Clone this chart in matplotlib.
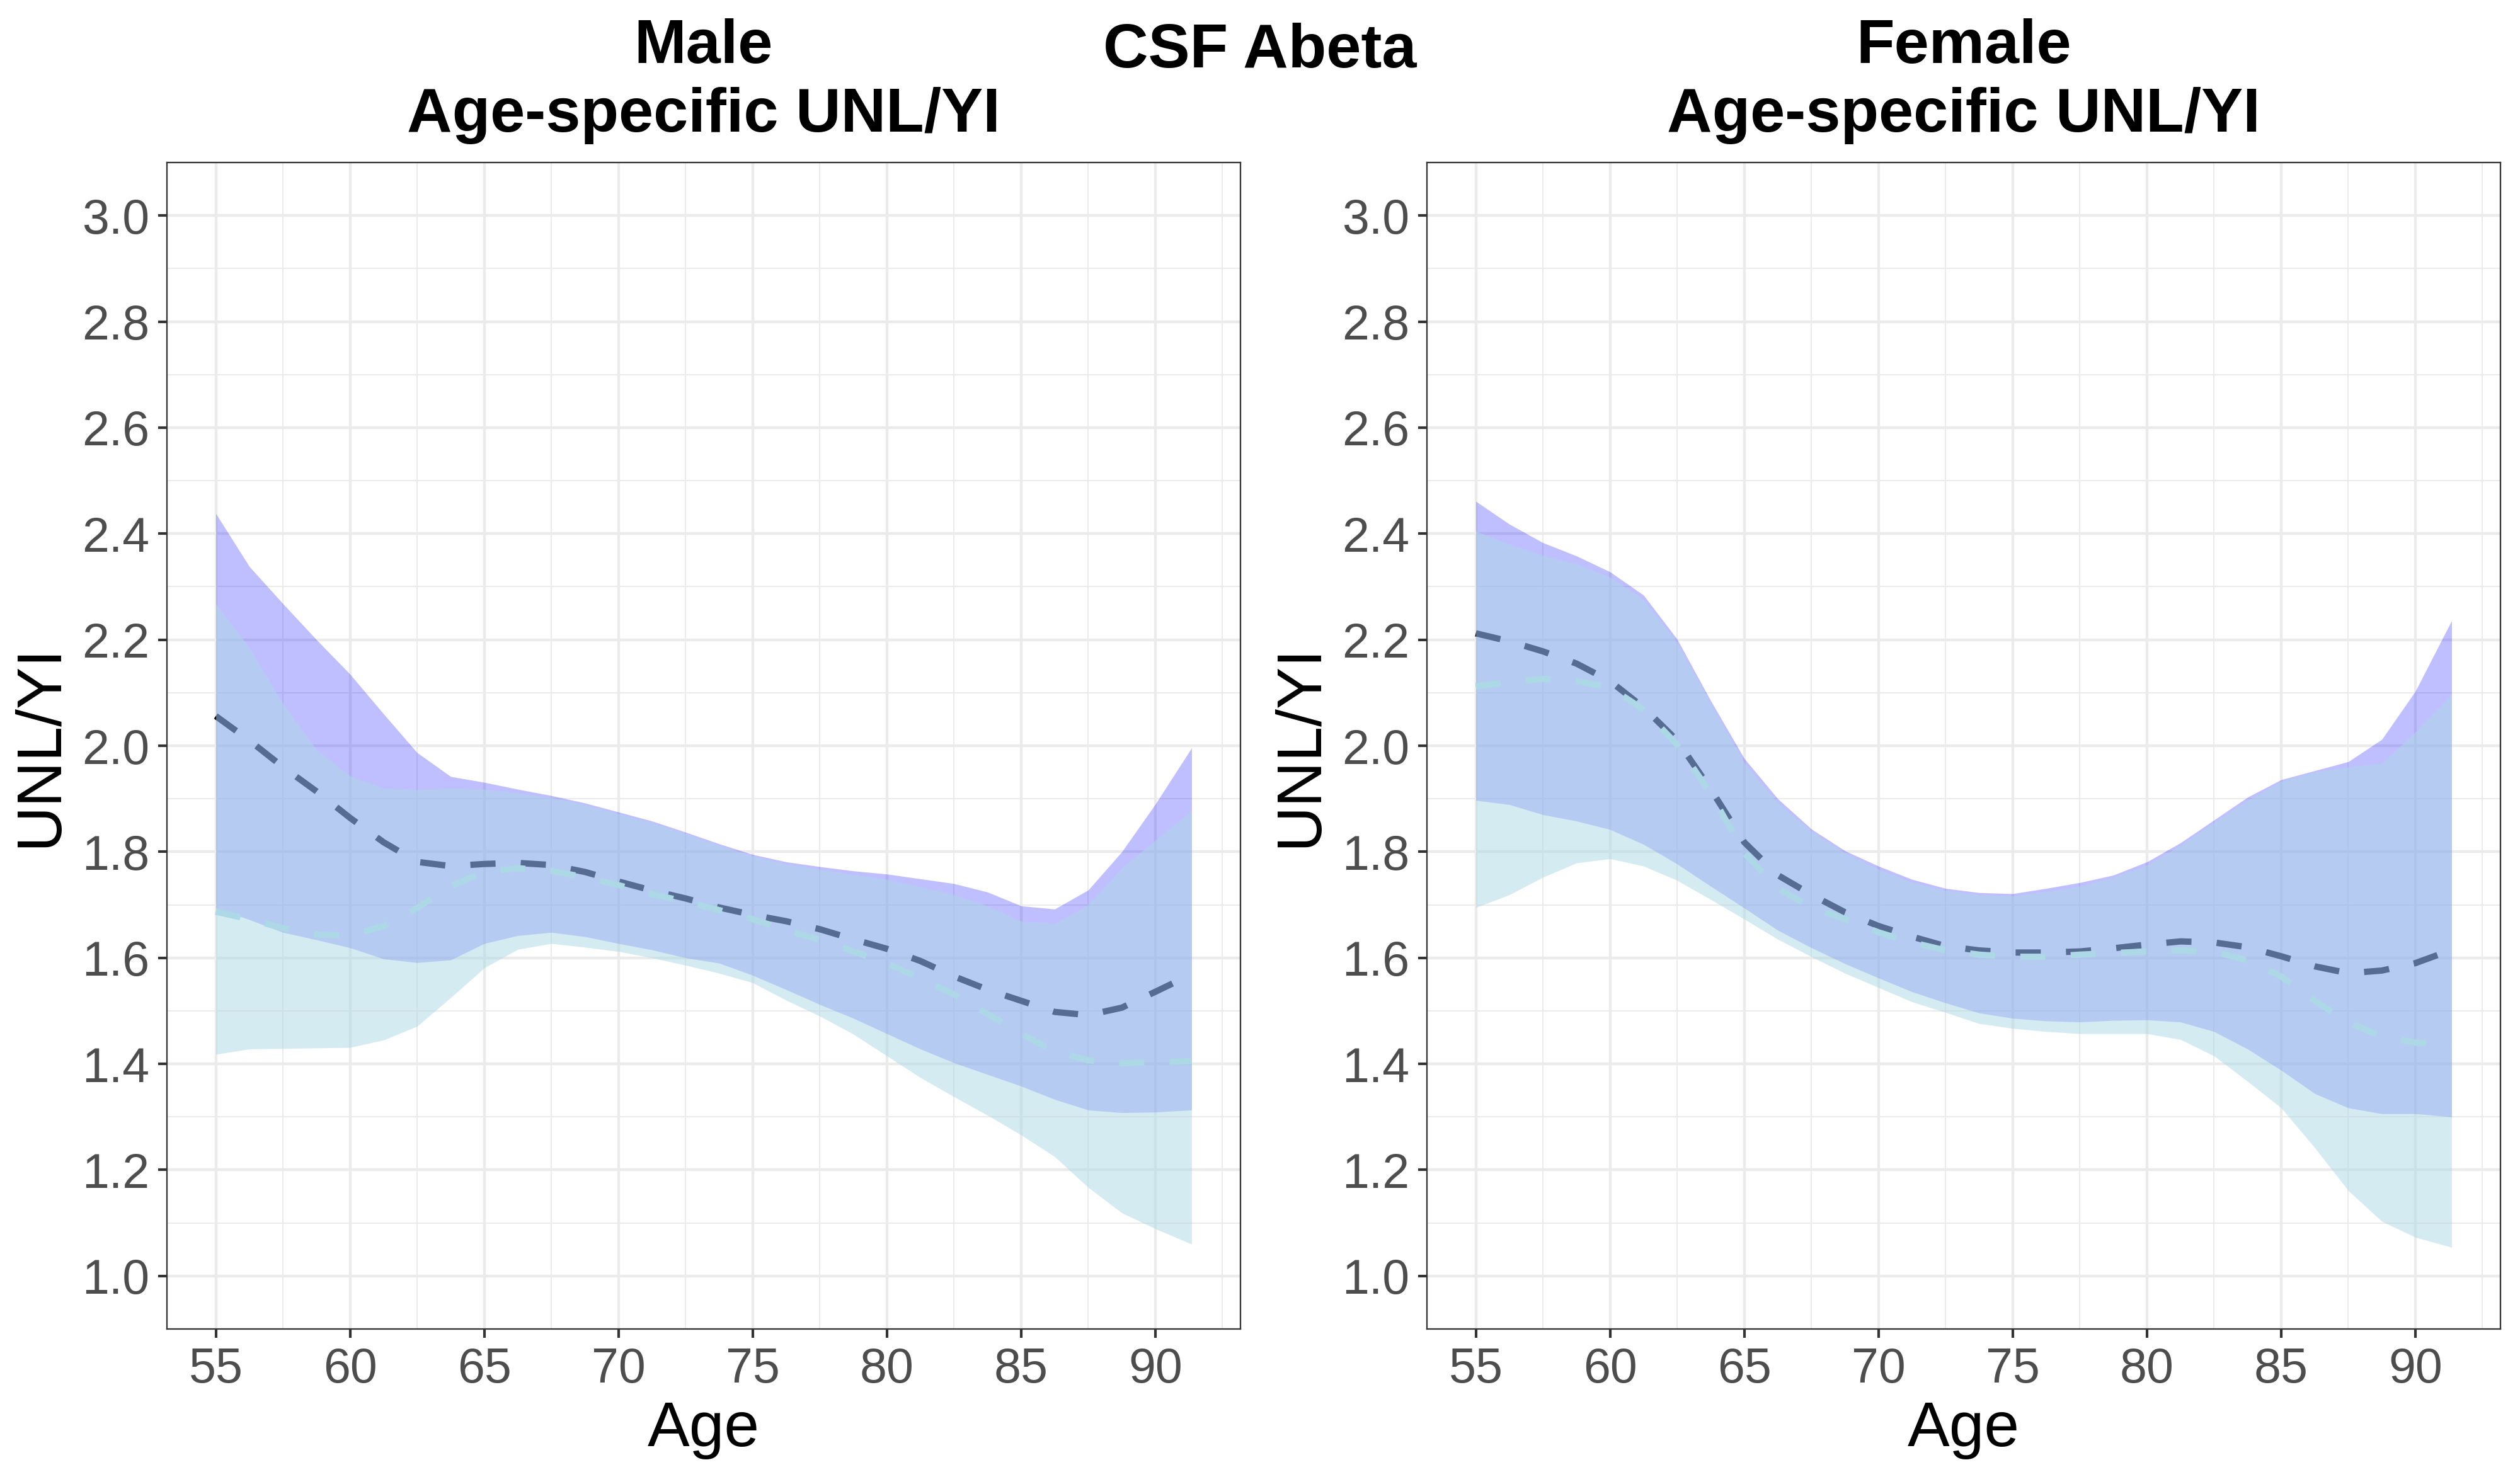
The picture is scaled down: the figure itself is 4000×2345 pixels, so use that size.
import matplotlib
matplotlib.use("Agg")
import matplotlib.pyplot as plt
from matplotlib.ticker import MultipleLocator, FixedLocator

plt.rcParams['font.family'] = ['Liberation Sans', 'DejaVu Sans']

ages = [55.0, 56.25, 57.5, 58.75, 60.0, 61.25, 62.5, 63.75, 65.0, 66.25,
        67.5, 68.75, 70.0, 71.25, 72.5, 73.75, 75.0, 76.25, 77.5, 78.75,
        80.0, 81.25, 82.5, 83.75, 85.0, 86.25, 87.5, 88.75, 90.0, 91.35]

# Male panel
m_hi1 = [2.438, 2.338, 2.268, 2.200, 2.135, 2.060, 1.987, 1.942, 1.931, 1.918,
         1.906, 1.892, 1.875, 1.858, 1.837, 1.815, 1.795, 1.781, 1.772, 1.764,
         1.758, 1.749, 1.740, 1.724, 1.698, 1.692, 1.728, 1.800, 1.890, 1.996]
m_lo1 = [1.694, 1.672, 1.648, 1.634, 1.619, 1.598, 1.591, 1.596, 1.627, 1.642,
         1.648, 1.640, 1.627, 1.615, 1.600, 1.590, 1.567, 1.540, 1.512, 1.486,
         1.457, 1.428, 1.402, 1.380, 1.358, 1.333, 1.313, 1.308, 1.309, 1.313]
m_hi2 = [2.268, 2.185, 2.080, 1.993, 1.943, 1.920, 1.917, 1.920, 1.918, 1.911,
         1.902, 1.889, 1.872, 1.855, 1.834, 1.812, 1.792, 1.777, 1.767, 1.757,
         1.748, 1.734, 1.719, 1.698, 1.669, 1.665, 1.700, 1.770, 1.822, 1.878]
m_lo2 = [1.418, 1.428, 1.429, 1.430, 1.431, 1.445, 1.471, 1.525, 1.581, 1.616,
         1.627, 1.620, 1.612, 1.600, 1.586, 1.571, 1.553, 1.520, 1.490, 1.456,
         1.415, 1.374, 1.338, 1.303, 1.266, 1.225, 1.167, 1.119, 1.089, 1.060]
m_fit1 = [2.056, 2.010, 1.960, 1.914, 1.864, 1.818, 1.781, 1.773, 1.777, 1.779,
          1.775, 1.762, 1.744, 1.727, 1.712, 1.695, 1.681, 1.669, 1.654, 1.635,
          1.617, 1.594, 1.565, 1.540, 1.519, 1.498, 1.492, 1.506, 1.536, 1.569]
m_fit2 = [1.687, 1.673, 1.656, 1.644, 1.642, 1.660, 1.694, 1.735, 1.762, 1.769,
          1.764, 1.752, 1.737, 1.720, 1.706, 1.690, 1.673, 1.652, 1.634, 1.612,
          1.590, 1.561, 1.531, 1.494, 1.457, 1.423, 1.407, 1.401, 1.403, 1.405]

# Female panel
f_hi1 = [2.461, 2.418, 2.383, 2.358, 2.328, 2.284, 2.201, 2.085, 1.976, 1.900,
         1.843, 1.802, 1.773, 1.748, 1.731, 1.723, 1.721, 1.731, 1.742, 1.756,
         1.781, 1.817, 1.860, 1.903, 1.936, 1.953, 1.970, 2.012, 2.103, 2.236]
f_lo1 = [1.897, 1.889, 1.870, 1.858, 1.842, 1.814, 1.777, 1.735, 1.694, 1.652,
         1.619, 1.589, 1.562, 1.536, 1.515, 1.496, 1.486, 1.481, 1.479, 1.482,
         1.483, 1.479, 1.461, 1.428, 1.388, 1.344, 1.317, 1.306, 1.306, 1.300]
f_hi2 = [2.405, 2.380, 2.359, 2.343, 2.318, 2.276, 2.195, 2.080, 1.968, 1.893,
         1.839, 1.798, 1.767, 1.743, 1.727, 1.719, 1.717, 1.725, 1.735, 1.752,
         1.775, 1.812, 1.856, 1.897, 1.933, 1.950, 1.960, 1.967, 2.026, 2.097]
f_lo2 = [1.695, 1.719, 1.752, 1.779, 1.787, 1.773, 1.746, 1.710, 1.673, 1.635,
         1.602, 1.571, 1.544, 1.517, 1.497, 1.476, 1.467, 1.461, 1.457, 1.457,
         1.457, 1.446, 1.415, 1.367, 1.317, 1.242, 1.161, 1.103, 1.073, 1.054]
f_fit1 = [2.212, 2.197, 2.178, 2.155, 2.122, 2.072, 2.010, 1.918, 1.818, 1.756,
          1.719, 1.686, 1.660, 1.640, 1.622, 1.614, 1.610, 1.610, 1.612, 1.618,
          1.625, 1.631, 1.629, 1.620, 1.603, 1.584, 1.571, 1.576, 1.590, 1.615]
f_fit2 = [2.112, 2.120, 2.126, 2.122, 2.110, 2.068, 2.002, 1.910, 1.798, 1.731,
          1.695, 1.673, 1.648, 1.629, 1.614, 1.606, 1.602, 1.602, 1.606, 1.609,
          1.612, 1.614, 1.612, 1.595, 1.565, 1.519, 1.478, 1.452, 1.440, 1.437]

panel_titles = ["Male", "Female"]
subtitle = "Age-specific UNL/YI"
main_title = "CSF Abeta"
x_ticks = [55, 60, 65, 70, 75, 80, 85, 90]
y_ticks = [1.0, 1.2, 1.4, 1.6, 1.8, 2.0, 2.2, 2.4, 2.6, 2.8, 3.0]

W, H = 4000, 2345
fig = plt.figure(figsize=(W / 300, H / 300), dpi=300)

panels = [
    (m_hi1, m_lo1, m_hi2, m_lo2, m_fit1, m_fit2),
    (f_hi1, f_lo1, f_hi2, f_lo2, f_fit1, f_fit2),
]
lefts = [265 / W, 2265 / W]
bottom = 1 - 2110 / H
width = 1704 / W
height = (2110 - 258) / H

for i, (hi1, lo1, hi2, lo2, fit1, fit2) in enumerate(panels):
    ax = fig.add_axes([lefts[i], bottom, width, height])
    ax.set_xlim(53.18, 93.17)
    ax.set_ylim(0.9, 3.1)
    ax.xaxis.set_major_locator(FixedLocator(x_ticks))
    ax.xaxis.set_minor_locator(FixedLocator([57.5, 62.5, 67.5, 72.5, 77.5, 82.5, 87.5, 92.5]))
    ax.yaxis.set_major_locator(FixedLocator(y_ticks))
    ax.yaxis.set_minor_locator(FixedLocator([1.1, 1.3, 1.5, 1.7, 1.9, 2.1, 2.3, 2.5, 2.7, 2.9]))
    ax.set_xticklabels([str(t) for t in x_ticks])
    ax.set_yticklabels([f"{t:.1f}" for t in y_ticks])
    ax.grid(which='major', color='#EBEBEB', linewidth=1.05, zorder=0)
    ax.grid(which='minor', color='#EBEBEB', linewidth=0.5, zorder=0)
    ax.set_axisbelow(True)
    ax.tick_params(which='major', length=3.4, width=1.0, color='#333333',
                   labelsize=18.5, labelcolor='#4D4D4D', pad=3.2)
    ax.tick_params(which='minor', length=0)
    for s in ax.spines.values():
        s.set_color('#333333')
        s.set_linewidth(0.55)

    ax.plot(ages, fit1, color='black', linewidth=2.4, dashes=(4, 4),
            solid_capstyle='butt', dash_capstyle='butt', zorder=2)
    ax.fill_between(ages, lo1, hi1, color='blue', alpha=0.25, linewidth=0, zorder=3)
    ax.plot(ages, fit2, color='lightblue', linewidth=2.4, dashes=(4, 4),
            dash_capstyle='butt', zorder=4)
    ax.fill_between(ages, lo2, hi2, color='lightblue', alpha=0.5, linewidth=0, zorder=5)

    cx = lefts[i] + width / 2
    fig.text(cx, 1 - 100 / H, panel_titles[i], ha='center', va='baseline',
             fontsize=23.8, fontweight='bold')
    fig.text(cx, 1 - 209 / H, subtitle, ha='center', va='baseline',
             fontsize=23.8, fontweight='bold')
    fig.text(cx, 1 - 2296 / H, "Age", ha='center', va='baseline', fontsize=24)
    fig.text(lefts[i] - 201 / W, bottom + height / 2, "UNL/YI", ha='center',
             va='center', rotation=90, fontsize=24)

fig.text(0.5, 1 - 107 / H, main_title, ha='center', va='baseline',
         fontsize=23.8, fontweight='bold')

fig.savefig("out.png", dpi=300)
